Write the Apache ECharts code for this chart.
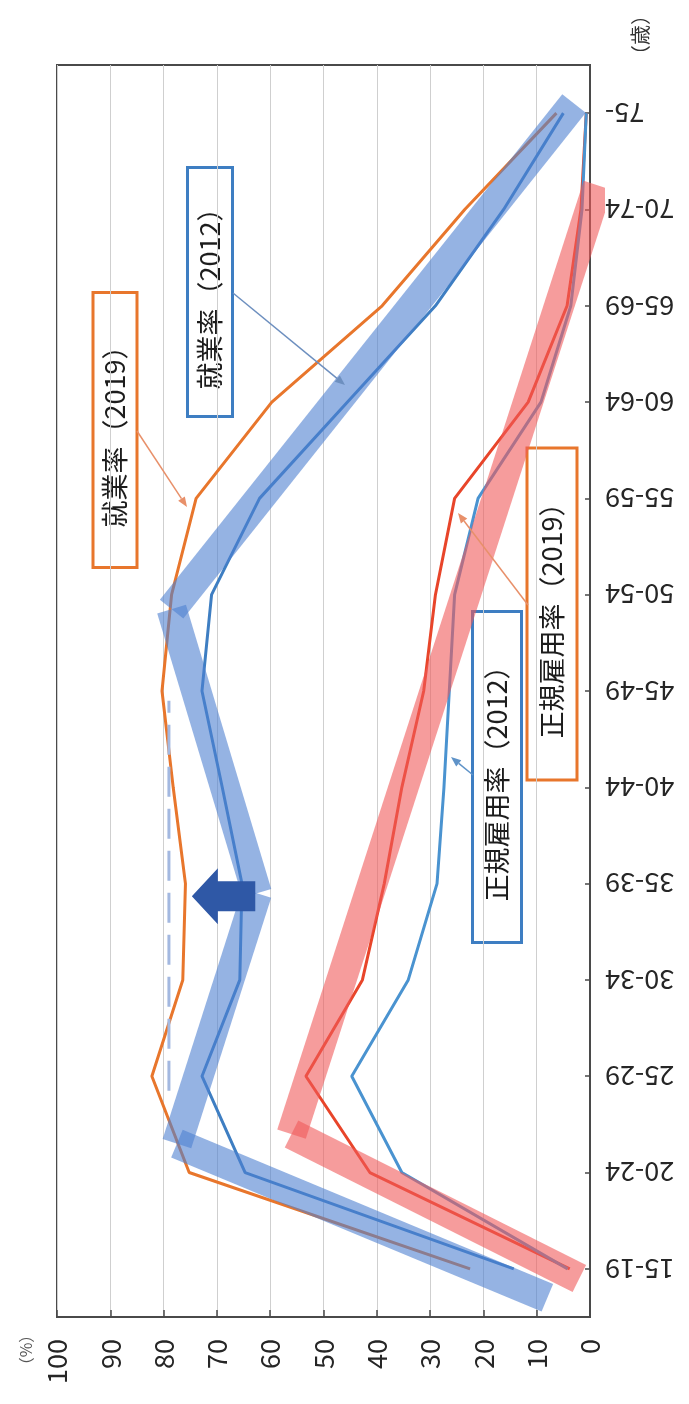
<!DOCTYPE html>
<html>
<head>
<meta charset="utf-8">
<script src="https://cdn.jsdelivr.net/npm/echarts@6/dist/echarts.min.js"></script>
<style>
  html, body { margin: 0; padding: 0; background: #fff; }
  #chart { width: 689px; height: 1404px; }
</style>
</head>
<body>
<div id="chart"></div>
<script>
// Age groups, youngest at the bottom of the (vertical) age axis
const ageGroups = ['15-19', '20-24', '25-29', '30-34', '35-39', '40-44', '45-49',
                   '50-54', '55-59', '60-64', '65-69', '70-74', '75-'];

// Women's employment rate (%)
const employment2019 = [22.5, 75.2, 82.2, 76.4, 75.9, 78.2, 80.3, 78.5, 73.9, 59.7, 39.0, 23.5, 6.3];
const employment2012 = [14.3, 64.7, 72.8, 65.7, 65.3, 69.0, 72.8, 71.0, 62.0, 45.5, 29.0, 16.2, 5.0];

// Women's regular-employment rate (%)
const regular2019 = [3.8, 41.3, 53.3, 42.7, 38.6, 35.3, 31.2, 29.0, 25.4, 11.6, 4.3, 1.7, 0.7];
const regular2012 = [4.2, 35.3, 44.7, 34.1, 28.7, 27.4, 26.4, 25.4, 21.0, 9.2, 3.6, 1.5, 0.7];

// Schematic trend bands: [percent, position along the age axis (0 = 15-19)]
const employmentShape = [[8, -0.3], [77.5, 1.3], [62.5, 3.9], [78.5, 6.85], [3, 12.1]];
const regularShape = [[2, -0.1], [56, 1.4], [-1.5, 11.25]];

// Flattened M-curve guide and the shift arrow: [tip %, tail %, position]
const plateauGuide = [[79, 1.85], [79, 5.9]];
const shiftArrow = [[74.7, 62.8, 3.87]];

const FONT = '"Noto Sans CJK JP", "Noto Sans", sans-serif';
const C_ORANGE = '#E8762C';
const C_RED = '#E8452A';
const C_BLUE = '#3E7EC2';
const C_BLUE2 = '#4A93D0';

function toSegments(points) {
  const segs = [];
  for (let i = 0; i < points.length - 1; i++) {
    segs.push({ coords: [points[i], points[i + 1]] });
  }
  return segs;
}

function lineSeries(name, values, color) {
  return {
    name, type: 'line', xAxisIndex: 0, yAxisIndex: 0,
    data: ageGroups.map((g, i) => [values[i], g]),
    showSymbol: false, symbol: 'none', z: 2,
    lineStyle: { color, width: 3 }
  };
}

function bandSeries(name, points, color) {
  return {
    name, type: 'lines', coordinateSystem: 'cartesian2d',
    xAxisIndex: 0, yAxisIndex: 1, z: 3, silent: true,
    data: toSegments(points),
    lineStyle: { color, width: 30, opacity: 0.6, cap: 'butt', curveness: 0 }
  };
}

// Boxed, rotated callout label
function callout(cx, cy, len, thick, text, color) {
  return {
    type: 'group', x: cx, y: cy, rotation: Math.PI / 2, z: 20,
    children: [
      { type: 'rect', shape: { x: -len / 2, y: -thick / 2, width: len, height: thick },
        style: { fill: '#fff', stroke: color, lineWidth: 3 } },
      { type: 'text', style: { text, x: 0, y: 0, align: 'center', verticalAlign: 'middle',
        font: '27px ' + FONT, fill: '#1c1c1c' } }
    ]
  };
}

// Thin leader line with a small arrowhead at (x2, y2)
function leader(x1, y1, x2, y2, color) {
  const a = Math.atan2(y2 - y1, x2 - x1), L = 10, W = 4;
  const bx = x2 - L * Math.cos(a), by = y2 - L * Math.sin(a);
  return [
    { type: 'line', z: 19, shape: { x1, y1, x2: bx, y2: by }, style: { stroke: color, lineWidth: 1.5 } },
    { type: 'polygon', z: 19, shape: { points: [[x2, y2],
        [bx - W * Math.sin(a), by + W * Math.cos(a)],
        [bx + W * Math.sin(a), by - W * Math.cos(a)]] }, style: { fill: color } }
  ];
}

const chart = echarts.init(document.getElementById('chart'), null, { renderer: 'canvas' });

chart.setOption({
  backgroundColor: '#fff',
  animation: false,
  grid: { left: 57, right: 99, top: 65, bottom: 87, show: true, borderColor: '#4a4a4a', borderWidth: 2, backgroundColor: 'transparent' },
  xAxis: {
    type: 'value', min: 0, max: 100, interval: 10, inverse: true,
    axisLine: { show: true, onZero: false, lineStyle: { color: '#4a4a4a', width: 2 } },
    axisTick: { show: true, inside: true, length: 7, lineStyle: { color: '#4a4a4a', width: 1.5 } },
    axisLabel: { rotate: 90, margin: 22, fontSize: 27, color: '#262626', fontFamily: FONT },
    splitLine: { show: true, lineStyle: { color: '#cfcfcf', width: 1 } }
  },
  yAxis: [
    {
      type: 'category', data: ageGroups, position: 'right', boundaryGap: true,
      axisLine: { show: true, onZero: false, lineStyle: { color: '#4a4a4a', width: 2 } },
      axisTick: { show: true, inside: true, alignWithLabel: true, length: 5, lineStyle: { color: '#4a4a4a', width: 1.5 } },
      axisLabel: { rotate: 180, margin: 15, fontSize: 27, color: '#262626', fontFamily: FONT },
      splitLine: { show: false }
    },
    { type: 'value', min: -0.5, max: 12.5, show: false, position: 'right',
      axisLine: { show: false, onZero: false }, splitLine: { show: false } }
  ],
  series: [
    lineSeries('就業率（2019）', employment2019, C_ORANGE),
    lineSeries('就業率（2012）', employment2012, C_BLUE),
    lineSeries('正規雇用率（2019）', regular2019, C_RED),
    lineSeries('正規雇用率（2012）', regular2012, C_BLUE2),
    bandSeries('就業率の形', employmentShape, '#4F80D0'),
    bandSeries('正規雇用率の形', regularShape, '#F05A5A'),
    {
      name: 'plateau', type: 'line', xAxisIndex: 0, yAxisIndex: 1, z: 4,
      data: plateauGuide, showSymbol: false, symbol: 'none',
      lineStyle: { color: '#A3B8E0', width: 3, type: [30, 12] }
    },
    {
      name: 'shift', type: 'custom', xAxisIndex: 0, yAxisIndex: 1, z: 5,
      encode: { x: [0, 1], y: 2 },
      data: shiftArrow,
      renderItem(params, api) {
        const tip = api.coord([api.value(0), api.value(2)]);
        const tail = api.coord([api.value(1), api.value(2)]);
        const dir = Math.sign(tail[0] - tip[0]);
        const headLen = 26, headHalf = 28, shaftHalf = 15;
        const y = tip[1], hx = tip[0] + dir * headLen;
        return {
          type: 'polygon',
          shape: { points: [[tip[0], y], [hx, y - headHalf], [hx, y - shaftHalf], [tail[0], y - shaftHalf],
                            [tail[0], y + shaftHalf], [hx, y + shaftHalf], [hx, y + headHalf]] },
          style: { fill: '#2F58A6' }
        };
      }
    }
  ],
  graphic: [
    callout(115, 430, 275, 44, '就業率（2019）', C_ORANGE),
    callout(210, 292, 249, 45, '就業率（2012）', C_BLUE),
    callout(497, 777, 331, 49, '正規雇用率（2012）', C_BLUE),
    callout(552, 614, 332, 50, '正規雇用率（2019）', C_ORANGE),
    ...leader(137, 431, 187, 507, '#E8906A'),
    ...leader(233, 293, 345, 385, '#6D8FBF'),
    ...leader(473, 775, 451, 757, '#5F93C8'),
    ...leader(528, 605, 458, 513, '#E8906A'),
    { type: 'text', x: 640, y: 35, rotation: Math.PI / 2, z: 20,
      style: { text: '（歳）', align: 'center', verticalAlign: 'middle', font: '20px ' + FONT, fill: '#333' } },
    { type: 'text', x: 26, y: 1350, rotation: Math.PI / 2, z: 20,
      style: { text: '（%）', align: 'center', verticalAlign: 'middle', font: '16px ' + FONT, fill: '#555' } }
  ]
});
</script>
</body>
</html>
